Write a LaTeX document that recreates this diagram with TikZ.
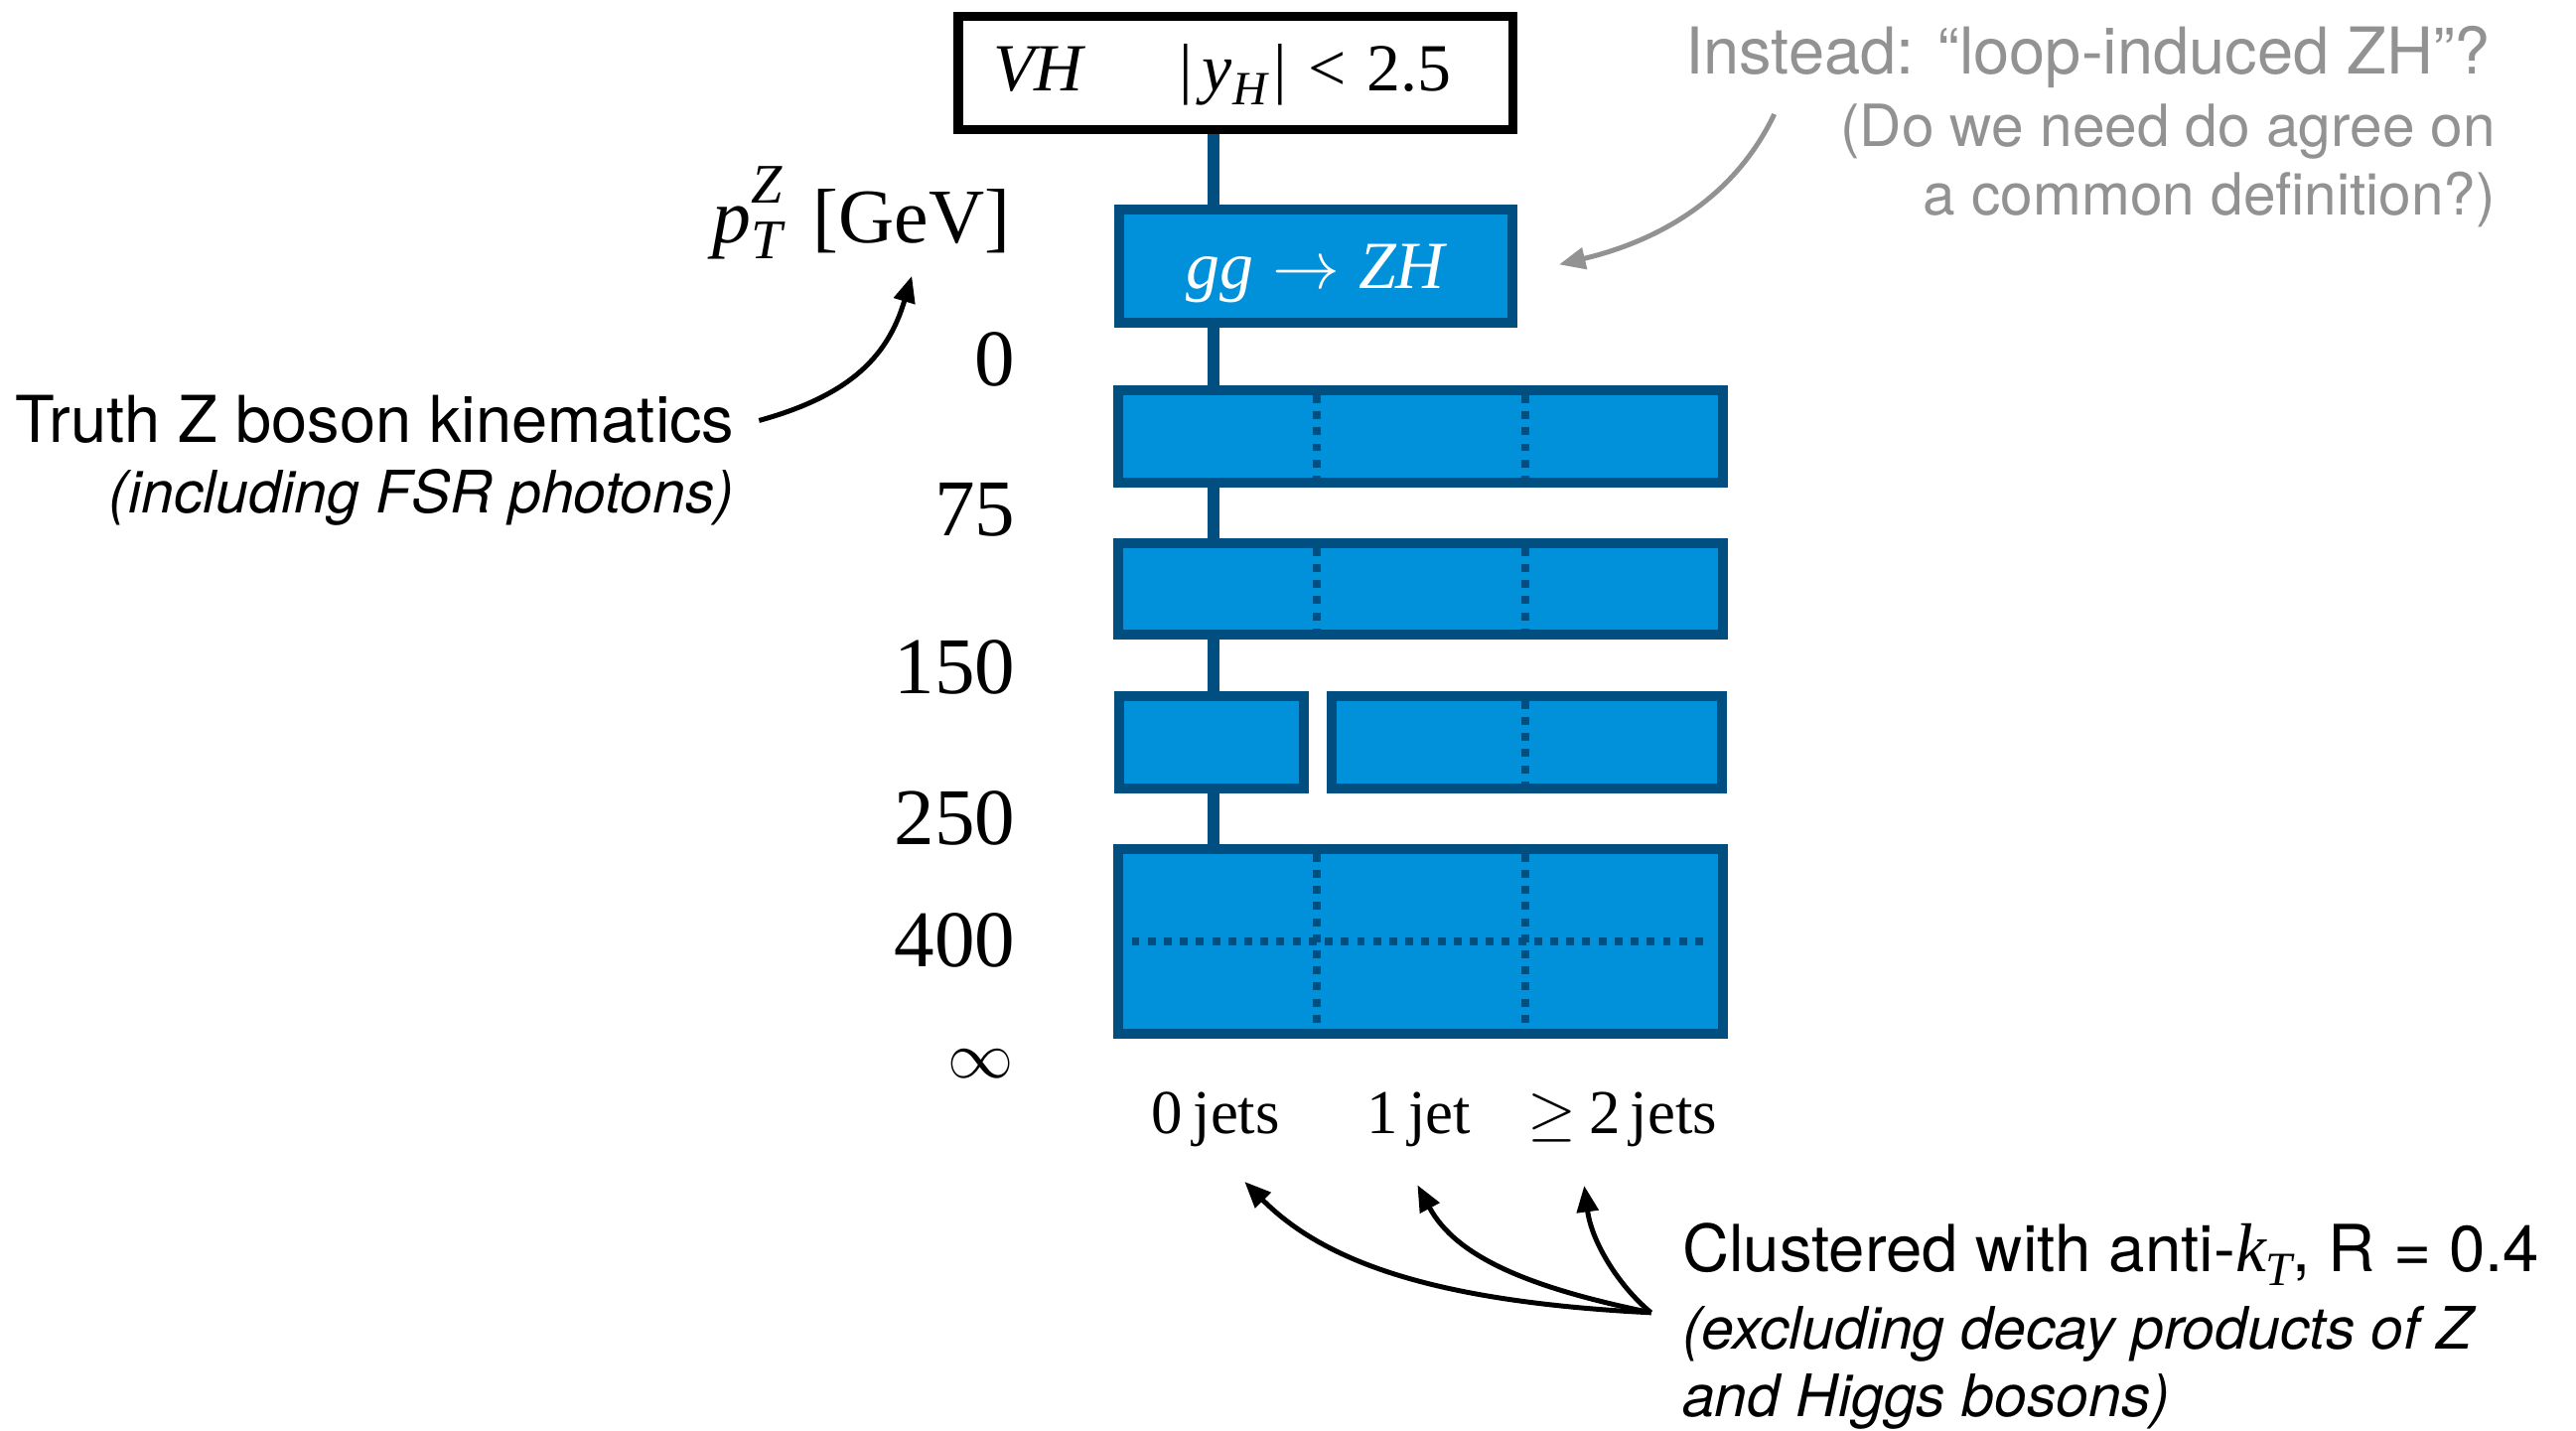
\RequirePackage{fix-cm}
\documentclass[tikz,border=0pt]{standalone}
\usepackage{fontspec}
\setmainfont{Liberation Serif}
\newfontfamily\helv{TeX Gyre Heros}
\usetikzlibrary{arrows.meta}
\definecolor{boxfill}{RGB}{0,145,218}
\definecolor{boxline}{RGB}{0,79,128}
\definecolor{notegray}{RGB}{146,146,146}
\newcommand{\fs}[1]{\fontsize{#1pt}{#1pt}\selectfont}

\begin{document}
\begin{tikzpicture}[x=1pt,y=-1pt,
  every node/.style={inner sep=0pt, outer sep=0pt},
  catbox/.style={rectangle, draw=boxline, fill=boxfill, line width=6pt, outer sep=3pt},
  vhbox/.style={rectangle, draw=black, fill=white, line width=5.5pt, outer sep=2.75pt},
  conn/.style={draw=boxline, line width=7pt},
  dots/.style={draw=boxline, line width=4.8pt, dash pattern=on 4.8pt off 5pt},
  arr/.style={line width=3pt, -{Triangle[length=16pt,width=13pt]}},
  garr/.style={arr, draw=notegray, color=notegray},
  serlab/.style={font=\fs{49}},
  jetlab/.style={anchor=base west, font=\fs{38}},
  sanshead/.style={font=\helv\fs{39.3}},
  sanssub/.style={font=\helv\itshape\fs{35.6}},
]
\path[fill=white] (0,0) rectangle (1568,871);
\useasboundingbox (0,0) rectangle (1568,871);

% ---- category boxes ----
\node[vhbox, minimum width=337.4pt, minimum height=68.9pt, text height=30pt, text depth=7.7pt] (vh) at (752,44.25)
  {\fs{41}{\itshape VH}\hspace{1.42em}|\hspace{0.15em}{\itshape y}\raisebox{-0.2em}{\fs{29}\itshape H}\hspace{0.1em}|\hspace{0.32em}<\hspace{0.3em}2.5\hspace{16pt}\null};
\node[catbox, minimum width=239.5pt, minimum height=69pt, text height=27pt, text depth=0pt, text=white] (gg) at (800.75,162)
  {\fs{41}{\itshape gg}\hspace{0.28em}$\rightarrow$\hspace{0.28em}{\itshape ZH}};
\node[catbox, minimum width=367.7pt, minimum height=56pt] (r1) at (864.65,265.5) {};
\node[catbox, minimum width=367.7pt, minimum height=56pt] (r2) at (864.65,358.5) {};
\node[catbox, minimum width=112.2pt, minimum height=56.4pt] (r3a) at (737.6,451.8) {};
\node[catbox, minimum width=237.6pt, minimum height=56.4pt] (r3b) at (929.2,451.8) {};
\node[catbox, minimum width=367.7pt, minimum height=112.7pt] (r4) at (864.65,573.05) {};

% ---- dotted subdivisions ----
\coordinate (d1) at (801.8,0);
\coordinate (d2) at (928.2,0);
\draw[dots] ([yshift=-6pt]r1.north -| d1) -- ([yshift=6pt]r1.south -| d1);
\draw[dots] ([yshift=-6pt]r1.north -| d2) -- ([yshift=6pt]r1.south -| d2);
\draw[dots] ([yshift=-6pt]r2.north -| d1) -- ([yshift=6pt]r2.south -| d1);
\draw[dots] ([yshift=-6pt]r2.north -| d2) -- ([yshift=6pt]r2.south -| d2);
\draw[dots] ([yshift=-6pt]r3b.north -| d2) -- ([yshift=6pt]r3b.south -| d2);
\draw[dots] ([yshift=-6pt]r4.north -| d1) -- ([yshift=6pt]r4.south -| d1);
\draw[dots] ([yshift=-6pt]r4.north -| d2) -- ([yshift=6pt]r4.south -| d2);
\draw[dots] ([xshift=11pt]r4.west) -- ([xshift=-11pt]r4.east);

% ---- vertical connector ----
\coordinate (xl) at (738.6,0);
\draw[conn] (vh.south -| xl) -- (gg.north -| xl);
\draw[conn] (gg.south -| xl) -- (r1.north -| xl);
\draw[conn] (r1.south -| xl) -- (r2.north -| xl);
\draw[conn] (r2.south -| xl) -- (r3a.north -| xl);
\draw[conn] (r3a.south -| xl) -- (r4.north -| xl);

% ---- axis labels ----
\node[serlab, anchor=base east, font=\fs{47}] (pt) at (615,148)
  {{\itshape p}\makebox[0pt][l]{\raisebox{0.52em}{\fs{34}\itshape Z}}\raisebox{-0.2em}{\fs{34}\itshape T}\hspace{0.4em}[GeV]};
\node[serlab, anchor=base east] (n0) at (618,235) {0};
\node[serlab, anchor=base east] (n75) at (618,326) {75};
\node[serlab, anchor=base east] (n150) at (618,422) {150};
\node[serlab, anchor=base east] (n250) at (618,514) {250};
\node[serlab, anchor=base east] (n400) at (618,588.5) {400};
\node[anchor=base east, font=\fs{40}] (ninf) at (617,656) {$\infty$};

\node[jetlab] (j0) at (701,690) {0\,jets};
\node[jetlab] (j1) at (832,690) {1\,jet};
\node[jetlab] (j2) at (930,690) {$\geq$\hspace{0.2em}2\,jets};

% ---- annotations ----
\node[sanshead, anchor=base east] (truth) at (447,269) {Truth Z boson kinematics};
\node[sanssub, anchor=base east] (fsr) at (447,312.3) {(including FSR photons)};

\node[sanshead, anchor=base east, text=notegray] (inst) at (1516,45) {Instead: “loop-induced ZH”?};
\node[sanssub, anchor=base east, text=notegray, font=\helv\fs{35.4}] (inst2) at (1519,89) {(Do we need do agree on};
\node[sanssub, anchor=base east, text=notegray, font=\helv\fs{35.4}] (inst3) at (1519,131) {a common definition?)};

\node[sanshead, anchor=base west, font=\helv\fs{39.5}] (clu) at (1024,774)
  {Clustered with anti-{\rmfamily\itshape\fs{42}k}\raisebox{-0.22em}{\rmfamily\itshape\fs{29}T}, R = 0.4};
\node[sanssub, anchor=base west] (clu2) at (1024,821) {(excluding decay products of Z};
\node[sanssub, anchor=base west] (clu3) at (1024,862) {and Higgs bosons)};

% ---- arrows ----
\coordinate (ptTip) at (555,168);
\draw[arr] ([xshift=15pt,yshift=-1pt]truth.east) .. controls (520,240) and (541,215) .. (ptTip);

\coordinate (grayStart) at (1080,69.5);
\draw[garr] (grayStart) .. controls (1056.4,119) and (1012,146) .. ([xshift=25.5pt,yshift=1pt]gg.east);

\coordinate (jTip0) at (757.6,719.3);
\coordinate (jTip1) at (862.8,721.3);
\coordinate (jTip2) at (964.3,721.7);
\coordinate (jSrc) at ([xshift=-19pt,yshift=-16.3pt]clu.south west);
\draw[arr] (jSrc) .. controls (875,792.5) and (806.6,768.7) .. (jTip0);
\draw[arr] (jSrc) .. controls (931.5,784) and (886.3,765.3) .. (jTip1);
\draw[arr] (jSrc) .. controls (985.8,783.3) and (968.9,756.4) .. (jTip2);
\end{tikzpicture}
\end{document}
